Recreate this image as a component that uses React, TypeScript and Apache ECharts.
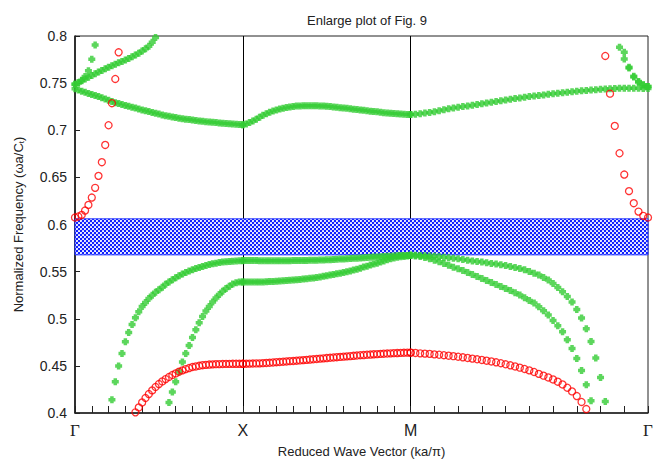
import React, { useEffect, useRef } from "react";
import * as echarts from "echarts";

// ---- axis structure ----
const SEG_START = [0, 1, 2];
const SEG_LEN = [1, 1, Math.SQRT2];
const STEPS = 50;
const SYMMETRY_POINTS = [0, 1, 2, 2 + Math.SQRT2];
const SYMMETRY_LABELS = ["Γ", "X", "M", "Γ"];
const Y_MIN = 0.4;
const Y_MAX = 0.8;
const Y_STEP = 0.05;

// ---- band gap ----
const GAP_LOWER = 0.5678;
const GAP_UPPER = 0.606;

// ---- red bands (hollow circles) ----
const redLowGX = [0.4007, 0.4059, 0.4112, 0.4159, 0.4201, 0.424, 0.4276, 0.4307, 0.4335, 0.436, 0.4382, 0.4403, 0.442, 0.4438, 0.4452, 0.4466, 0.4477, 0.4488, 0.4494, 0.4501, 0.4507, 0.4511, 0.4514, 0.4516, 0.4518, 0.4519, 0.452, 0.4521, 0.4521, 0.4522, 0.4522, 0.4522, 0.4522];
const redLowXM = [0.4522, 0.4523, 0.4524, 0.4525, 0.4526, 0.4527, 0.4529, 0.4531, 0.4533, 0.4536, 0.4539, 0.4541, 0.4544, 0.4547, 0.455, 0.4552, 0.4555, 0.4558, 0.4561, 0.4564, 0.4567, 0.457, 0.4573, 0.4577, 0.458, 0.4583, 0.4586, 0.4589, 0.4592, 0.4595, 0.4598, 0.4601, 0.4604, 0.4607, 0.461, 0.4613, 0.4615, 0.4618, 0.462, 0.4623, 0.4625, 0.4627, 0.4629, 0.4631, 0.4633, 0.4635, 0.4636, 0.4638, 0.4639, 0.464, 0.4641];
const redLowMG = [0.464, 0.4637, 0.4633, 0.463, 0.4627, 0.4622, 0.4618, 0.4613, 0.4608, 0.4603, 0.4597, 0.4591, 0.4584, 0.4577, 0.457, 0.4563, 0.4555, 0.4547, 0.4538, 0.4528, 0.4517, 0.4506, 0.4494, 0.4481, 0.4467, 0.4452, 0.4435, 0.4415, 0.4396, 0.4377, 0.4356, 0.4332, 0.4303, 0.4268, 0.4229, 0.418, 0.4117, 0.4042];
const redUpGX = [0.6074, 0.6085, 0.6102, 0.6148, 0.6208, 0.6286, 0.6389, 0.6516, 0.6661, 0.6844, 0.7053, 0.7287, 0.7544, 0.7827];
const redUpMG = [0.7788, 0.7388, 0.7046, 0.6756, 0.653, 0.6354, 0.6226, 0.6137, 0.6092, 0.6074];

// ---- green bands (filled crosses) ----
const greenAGX = [0.4141, 0.4332, 0.4498, 0.4632, 0.4756, 0.4855, 0.494, 0.501, 0.5074, 0.513, 0.5173, 0.5215, 0.525, 0.528, 0.5307, 0.5335, 0.5365, 0.539, 0.5413, 0.5435, 0.5456, 0.5474, 0.5491, 0.5506, 0.5519, 0.5532, 0.5544, 0.5555, 0.5565, 0.5575, 0.5583, 0.559, 0.5597, 0.5601, 0.5605, 0.5608, 0.5611, 0.5613, 0.5615, 0.5616];
const greenAXM = [0.5617, 0.5617, 0.5617, 0.5617, 0.5617, 0.5616, 0.5616, 0.5616, 0.5616, 0.5616, 0.5616, 0.5616, 0.5616, 0.5616, 0.5616, 0.5617, 0.5617, 0.5618, 0.5618, 0.5619, 0.562, 0.5621, 0.5622, 0.5623, 0.5624, 0.5625, 0.5627, 0.5629, 0.5631, 0.5633, 0.5635, 0.5637, 0.5639, 0.5641, 0.5643, 0.5645, 0.5648, 0.565, 0.5652, 0.5654, 0.5656, 0.5658, 0.566, 0.5662, 0.5664, 0.5666, 0.5668, 0.567, 0.5671, 0.5672, 0.5674];
const greenAMG = [0.5675, 0.5674, 0.5672, 0.5669, 0.5666, 0.5662, 0.5658, 0.5653, 0.5648, 0.5642, 0.5636, 0.5628, 0.5622, 0.5614, 0.5607, 0.5601, 0.5593, 0.5586, 0.558, 0.5572, 0.5565, 0.5554, 0.5544, 0.5533, 0.5519, 0.5501, 0.5484, 0.5463, 0.5438, 0.541, 0.5374, 0.5332, 0.5286, 0.5236, 0.5177, 0.5099, 0.5007, 0.4894, 0.4759, 0.4583, 0.4377, 0.4123];
const greenBGX = [0.4112, 0.4222, 0.4332, 0.4438, 0.4541, 0.4632, 0.4717, 0.4802, 0.4883, 0.4957, 0.5024, 0.5081, 0.513, 0.5177, 0.5219, 0.5257, 0.5293, 0.5321, 0.5346, 0.5368, 0.5381, 0.5389, 0.539];
const greenBXM = [0.539, 0.539, 0.539, 0.539, 0.539, 0.539, 0.5391, 0.5392, 0.5394, 0.5396, 0.5398, 0.54, 0.5402, 0.5405, 0.5408, 0.5411, 0.5414, 0.5417, 0.5421, 0.5425, 0.5429, 0.5433, 0.5438, 0.5444, 0.545, 0.5456, 0.5463, 0.547, 0.5477, 0.5484, 0.5491, 0.5498, 0.5507, 0.5516, 0.5526, 0.5537, 0.5548, 0.5558, 0.5569, 0.558, 0.559, 0.5602, 0.5613, 0.5625, 0.5636, 0.5645, 0.5652, 0.5657, 0.5661, 0.5665, 0.567];
const greenBMG = [0.5675, 0.5667, 0.566, 0.565, 0.5636, 0.5622, 0.5604, 0.5586, 0.5568, 0.5547, 0.553, 0.5512, 0.5491, 0.5469, 0.5448, 0.5427, 0.5406, 0.5385, 0.5363, 0.5342, 0.5321, 0.53, 0.5275, 0.5251, 0.5222, 0.5194, 0.5166, 0.5127, 0.5085, 0.5039, 0.4982, 0.4926, 0.4862, 0.4777, 0.4685, 0.4579, 0.4452, 0.43, 0.413];
const greenCGX = [0.744, 0.7428, 0.7415, 0.7403, 0.739, 0.7379, 0.7368, 0.7357, 0.7344, 0.7331, 0.7318, 0.7305, 0.7293, 0.7283, 0.7273, 0.7263, 0.7254, 0.7244, 0.7235, 0.7225, 0.7216, 0.7207, 0.7198, 0.7189, 0.7181, 0.7172, 0.7163, 0.7155, 0.7148, 0.7141, 0.7134, 0.7128, 0.7123, 0.7118, 0.7113, 0.7108, 0.7103, 0.7099, 0.7095, 0.7091, 0.7088, 0.7085, 0.7081, 0.7078, 0.7075, 0.7072, 0.7069, 0.7067, 0.7064, 0.7061, 0.7058];
const greenCXM = [0.7058, 0.7066, 0.7081, 0.7099, 0.7117, 0.7138, 0.7159, 0.7176, 0.7191, 0.7204, 0.7216, 0.7226, 0.7234, 0.7241, 0.7247, 0.7252, 0.7256, 0.7258, 0.726, 0.7261, 0.7261, 0.726, 0.7259, 0.7258, 0.7256, 0.7254, 0.7251, 0.7247, 0.7244, 0.724, 0.7236, 0.7233, 0.7229, 0.7224, 0.722, 0.7215, 0.7211, 0.7206, 0.7202, 0.7198, 0.7195, 0.7191, 0.7187, 0.7184, 0.718, 0.7178, 0.7175, 0.7173, 0.7171, 0.7168, 0.7166];
const greenCMG = [0.7166, 0.717, 0.7176, 0.7182, 0.7188, 0.7197, 0.7208, 0.7218, 0.7228, 0.7236, 0.7244, 0.7251, 0.7258, 0.7266, 0.7273, 0.728, 0.7288, 0.7296, 0.7304, 0.7312, 0.732, 0.7328, 0.7336, 0.7343, 0.735, 0.7357, 0.7363, 0.7369, 0.7375, 0.7381, 0.7387, 0.7393, 0.7399, 0.7404, 0.7409, 0.7414, 0.7418, 0.7422, 0.7426, 0.743, 0.7434, 0.7437, 0.744, 0.7443, 0.7445, 0.7446, 0.7446, 0.7446, 0.7445, 0.7443, 0.7442];
const greenDGX = [0.7485, 0.7505, 0.7525, 0.7545, 0.7563, 0.7581, 0.7599, 0.7617, 0.7635, 0.7652, 0.7669, 0.7685, 0.77, 0.7715, 0.773, 0.7746, 0.7762, 0.7779, 0.7798, 0.7818, 0.784, 0.7864, 0.7892, 0.7935, 0.7985];
const greenEGX = [0.7492, 0.7505, 0.753, 0.757, 0.7632, 0.7753, 0.7905];
const greenDMG = [0.7756, 0.766, 0.7566, 0.7512, 0.7479, 0.7463];
const greenEMG = [0.788, 0.7827, 0.7668, 0.7572, 0.7518, 0.7483, 0.7465];

// [segment, start index, values]
const RED_BANDS: [number, number, number[]][] = [
  [0, 18, redLowGX],
  [1, 0, redLowXM],
  [2, 0, redLowMG],
  [0, 0, redUpGX],
  [2, 41, redUpMG],
];
const GREEN_BANDS: [number, number, number[]][] = [
  [0, 11, greenAGX],
  [1, 0, greenAXM],
  [2, 0, greenAMG],
  [0, 28, greenBGX],
  [1, 0, greenBXM],
  [2, 0, greenBMG],
  [0, 0, greenCGX],
  [1, 0, greenCXM],
  [2, 0, greenCMG],
  [0, 0, greenDGX],
  [0, 0, greenEGX],
  [2, 45, greenDMG],
  [2, 44, greenEMG],
];

function toPoints(bands: [number, number, number[]][]) {
  const out: number[][] = [];
  bands.forEach(([seg, start, vals]) => {
    vals.forEach((v, j) => {
      out.push([SEG_START[seg] + ((start + j) * SEG_LEN[seg]) / STEPS, v]);
    });
  });
  return out;
}

function tickPositions() {
  const t: number[] = [];
  for (let s = 0; s < 3; s++) {
    for (let n = s === 0 ? 0 : 1; n <= 10; n++) t.push(SEG_START[s] + (n * SEG_LEN[s]) / 10);
  }
  return t;
}

function makePattern() {
  const c = document.createElement("canvas");
  c.width = 4;
  c.height = 4;
  const ctx = c.getContext("2d")!;
  ctx.fillStyle = "#1020ff";
  ctx.fillRect(0, 0, 4, 4);
  ctx.fillStyle = "#ffffff";
  ctx.beginPath();
  ctx.arc(1, 1, 1.05, 0, Math.PI * 2);
  ctx.fill();
  ctx.beginPath();
  ctx.arc(3, 3, 1.05, 0, Math.PI * 2);
  ctx.fill();
  return c;
}

const FONT = "Liberation Sans, Arial, sans-serif";
const GREEN_SYMBOL = "path://M2,0H6V2H8V6H6V8H2V6H0V2H2Z";

export default function App() {
  const ref = useRef<HTMLDivElement>(null);
  useEffect(() => {
    if (!ref.current) return;
    const chart = echarts.init(ref.current, undefined, { renderer: "svg" });
    const xMax = SYMMETRY_POINTS[SYMMETRY_POINTS.length - 1];
    const pattern = makePattern();
    chart.setOption({
      animation: false,
      title: {
        text: "Enlarge plot of Fig. 9",
        left: 362,
        textAlign: "center",
        top: 9,
        textStyle: { fontFamily: FONT, fontSize: 13, fontWeight: "normal", color: "#222" },
      },
      grid: {
        left: 75,
        right: 19,
        top: 36,
        bottom: 50,
        show: true,
        borderColor: "#222",
        borderWidth: 1,
        backgroundColor: "transparent",
      },
      xAxis: {
        type: "value",
        min: 0,
        max: xMax,
        name: "Reduced Wave Vector (ka/π)",
        nameLocation: "middle",
        nameGap: 32,
        nameTextStyle: { fontFamily: FONT, fontSize: 13, color: "#222" },
        axisLine: { show: true, onZero: false, lineStyle: { color: "#222", width: 1.5 } },
        axisTick: {
          show: true,
          inside: true,
          length: 7,
          customValues: tickPositions(),
          lineStyle: { color: "#222", width: 1 },
        },
        axisLabel: {
          customValues: SYMMETRY_POINTS,
          margin: 9,
          fontFamily: FONT,
          fontSize: 16,
          color: "#222",
          formatter: (v: number) => {
            let best = 0;
            SYMMETRY_POINTS.forEach((p, i) => {
              if (Math.abs(p - v) < Math.abs(SYMMETRY_POINTS[best] - v)) best = i;
            });
            const lab = SYMMETRY_LABELS[best];
            return lab === "Γ" ? "{g|Γ}" : lab;
          },
          rich: {
            g: { fontFamily: "Liberation Serif, DejaVu Serif, serif", fontSize: 17, color: "#222" },
          },
        },
        splitLine: { show: false },
      },
      yAxis: {
        type: "value",
        min: Y_MIN,
        max: Y_MAX,
        interval: Y_STEP,
        name: "Normalized Frequency (ωa/C{s|t})",
        nameLocation: "middle",
        nameGap: 50,
        nameTextStyle: {
          fontFamily: FONT,
          fontSize: 13,
          color: "#222",
          rich: {
            s: { fontFamily: FONT, fontSize: 8, color: "#222", verticalAlign: "bottom", padding: [6, 0, 0, 0] },
          },
        },
        axisLine: { show: true, onZero: false, lineStyle: { color: "#111", width: 1.5 } },
        axisTick: { show: true, inside: true, length: 5, lineStyle: { color: "#222" } },
        axisLabel: { fontFamily: FONT, fontSize: 14, color: "#222", margin: 8 },
        splitLine: { show: false },
      },
      series: [
        {
          type: "line",
          data: [],
          silent: true,
          markLine: {
            z: 0,
            silent: true,
            symbol: "none",
            label: { show: false },
            lineStyle: { color: "#000", width: 1, type: "solid" },
            data: [{ xAxis: SYMMETRY_POINTS[1] }, { xAxis: SYMMETRY_POINTS[2] }],
          },
          markArea: {
            z: 1,
            silent: true,
            itemStyle: {
              color: { image: pattern, repeat: "repeat", imageWidth: 4, imageHeight: 4 },
              borderColor: "#2233ff",
              borderWidth: 1,
            },
            data: [[{ xAxis: 0, yAxis: GAP_LOWER }, { xAxis: xMax, yAxis: GAP_UPPER }]],
          },
        },
        {
          type: "scatter",
          z: 3,
          symbol: GREEN_SYMBOL,
          symbolSize: 7,
          itemStyle: { color: "#33cc33" },
          data: toPoints(GREEN_BANDS),
        },
        {
          type: "scatter",
          z: 4,
          symbol: "circle",
          symbolSize: 7,
          itemStyle: { color: "transparent", borderColor: "#ff0000", borderWidth: 1.3 },
          data: toPoints(RED_BANDS),
        },
      ],
    });
    return () => chart.dispose();
  }, []);
  return (
    <div
      ref={ref}
      style={{ position: "fixed", left: 0, top: 0, width: 667, height: 463, background: "#fff" }}
    />
  );
}
